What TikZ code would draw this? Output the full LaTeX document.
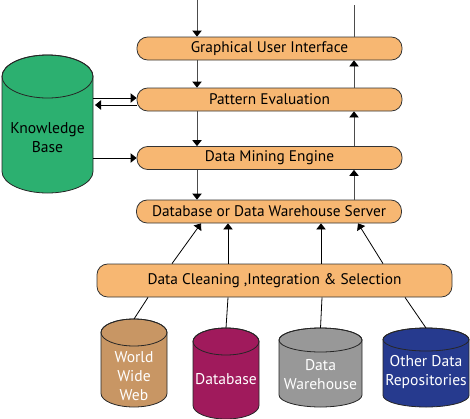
\documentclass[tikz,border=0pt]{standalone}
\usepackage{fontspec}
\setmainfont{PT Sans}
\usetikzlibrary{arrows.meta,calc}

\definecolor{layerfill}{RGB}{247,183,114}
\definecolor{kbgreen}{RGB}{44,176,112}
\definecolor{webtan}{RGB}{200,150,100}
\definecolor{dbpurple}{RGB}{160,26,92}
\definecolor{dwgray}{RGB}{152,152,152}
\definecolor{repoblue}{RGB}{38,58,142}

% drum: name, centre x, top y, bottom y, x radius, y radius, fill
\newcommand{\drum}[7]{%
	\filldraw[fill=#7, draw=black!85] (#2-#5, #3+#6) -- (#2-#5, #4-#6)
		arc[start angle=180, end angle=0, x radius=#5, y radius=#6] -- (#2+#5, #3+#6)
		arc[start angle=0, end angle=-180, x radius=#5, y radius=#6] -- cycle;
	\draw[black!85] (#2, #3+#6) ellipse [x radius=#5, y radius=#6];
	\coordinate (#1 top) at (#2, #3);
	\coordinate (#1 east) at (#2+#5, #3/2+#4/2);
}

\tikzset{
	layer/.style = {draw=black!80, fill=layerfill, rounded corners=8pt, inner sep=0pt,
		minimum width=198.75pt, minimum height=17.25pt, font=\fontsize{11.5}{13}\selectfont},
	storetext/.style = {align=center, text=white, inner sep=0pt, font=\fontsize{11.7}{14.25}\selectfont},
	arr/.style = {-{Triangle[length=4.5pt,width=7pt,color=black]}},
}

\begin{document}
\begin{tikzpicture}[x = 0.75pt, y = -0.75pt, line width = 0.6pt]
	\useasboundingbox (0,0) rectangle (470,418);

	% layers
	\node[layer] (gui) at (269.5, 48.5) {Graphical User Interface};
	\node[layer] (pe) at (269.5, 99.5) {Pattern Evaluation};
	\node[layer] (dme) at (269.5, 158) {Data Mining Engine};
	\node[layer] (dbs) at (269, 211.5) {Database or Data Warehouse Server};
	\node[layer, minimum width=266.25pt, minimum height=24.75pt] (clean) at (274.5, 280.5) {Data Cleaning ,Integration \& Selection};

	% stores
	\drum{kb}{47.5}{55}{193}{45.5}{21.5}{kbgreen}
	\drum{www}{134}{319}{407}{33}{13.5}{webtan}
	\drum{db}{226}{328}{419}{33}{13.5}{dbpurple}
	\drum{dwh}{320.5}{328}{407}{41.5}{12}{dwgray}
	\drum{odr}{426}{328}{407}{43}{11.5}{repoblue}
	\node[storetext, text=black] (kbtext) at (47.5, 137.5) {Knowledge\\Base};
	\node[storetext] (wwwtext) at (134, 376) {World\\Wide\\Web};
	\node[storetext] (dbtext) at (226, 379) {Database};
	\node[storetext] (dwhtext) at (320.5, 374.5) {Data\\Warehouse};
	\node[storetext] (odrtext) at (426, 371.5) {Other Data\\Repositories};

	% flow through the layers
	\coordinate (in) at (197, 0);
	\coordinate (out) at (354, 5);
	\draw[arr, gray!60!black] (in) -- (in |- gui.north);
	\foreach \a/\b in {gui/pe, pe/dme, dme/dbs} {
		\draw[arr, gray!60!black] (\a.south -| in) -- (\b.north -| in);
	}
	\draw[gray!60!black] (gui.north -| out) -- (out);
	\foreach \a/\b in {pe/gui, dme/pe, dbs/dme} {
		\draw[arr, gray!60!black] (\a.north -| out) -- (\b.south -| out);
	}

	% knowledge base
	\draw[arr] ($(kb east |- pe.west)+(0,-1.5)$) -- ($(pe.west)+(0,-1.5)$);
	\draw[arr] ($(pe.west)+(0,5.5)$) -- ($(kb east |- pe.west)+(2,5.5)$);
	\draw[arr] (kb east |- dme.west) -- (dme.west);

	% sources
	\foreach \a/\b in {172/201, 228/228, 321/321, 383/358} {
		\draw[arr] (clean.north -| \a,0) -- (dbs.south -| \b,0);
	}
	\foreach \a/\n in {148/www, 228/db, 322/dwh, 405/odr} {
		\draw (clean.south -| \a,0) -- (\n\space top);
	}
\end{tikzpicture}
\end{document}
